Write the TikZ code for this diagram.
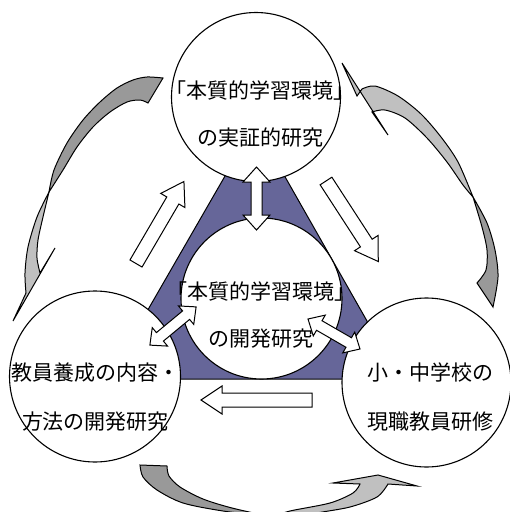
\documentclass[tikz,border=0pt]{standalone}
\usepackage{fontspec}
\newfontfamily\jp{Noto Sans CJK JP}
\definecolor{darkg}{HTML}{999999}
\definecolor{lightg}{HTML}{C0C0C0}
\definecolor{tribl}{HTML}{666699}
\newcommand\blockarrow[7]{% tail x, tail y, angle, length, shaft w, head w, head len
  \begin{scope}[shift={(#1,#2)},rotate=#3]
    \draw[warrow] (0,-#5/2) -- (#4-#7,-#5/2) -- (#4-#7,-#6/2) -- (#4,0)
      -- (#4-#7,#6/2) -- (#4-#7,#5/2) -- (0,#5/2) -- cycle;
  \end{scope}}
\newcommand\dblarrow[7]{% centre x, centre y, angle, length, shaft w, head w, head len
  \begin{scope}[shift={(#1,#2)},rotate=#3]
    \draw[warrow] (-#4/2,0) -- (-#4/2+#7,-#6/2) -- (-#4/2+#7,-#5/2)
      -- (#4/2-#7,-#5/2) -- (#4/2-#7,-#6/2) -- (#4/2,0) -- (#4/2-#7,#6/2)
      -- (#4/2-#7,#5/2) -- (-#4/2+#7,#5/2) -- (-#4/2+#7,#6/2) -- cycle;
  \end{scope}}
\begin{document}
\begin{tikzpicture}[x=1pt,y=-1pt,
  circ/.style={circle,draw=black,fill=white,line width=1.1pt,inner sep=0pt},
  lbl/.style={font=\jp\fontsize{21}{47}\selectfont,align=center,inner sep=0pt},
  lblw/.style={font=\jp\fontsize{21}{49}\selectfont,align=center,inner sep=0pt},
  warrow/.style={draw=black,fill=white,line width=1pt,line join=miter},
  garrow/.style={draw=black,line width=1pt,line join=miter}]
\useasboundingbox (0,0) rectangle (510,512);
\clip (0,0) rectangle (510,512);

% gray curved arrows
\draw[garrow,fill=darkg] (163,78) -- plot[smooth] coordinates {(163,78)(147,77)(133,80)(117,88)(100,102)(83,120)(67,143)(54,170)(49,192)}
  -- plot[smooth] coordinates {(49,192)(63,170)(77,147)(93,127)(110,112)(127,102)(140,100)(148,103)} -- cycle;
\draw[garrow,fill=lightg] plot[smooth] coordinates {(49,192)(37,217)(28,247)(25,273)(26,293)}
  -- (13,321) -- (55,248) -- (40,273)
  -- plot[smooth] coordinates {(40,273)(37,258)(38,240)(43,217)(49,192)} -- cycle;

\draw[garrow,fill=lightg] (342,63) -- (357,96) -- plot[smooth] coordinates {(362,89)(375,86)(398,96)(421,114)(441,137)(458,162)(473,197)}
  -- plot[smooth] coordinates {(473,197)(463,185)(447,162)(427,138)(405,118)(385,110)(372,112)}
  -- (388,135) -- cycle;
\draw[garrow,fill=darkg] plot[smooth] coordinates {(473,197)(487,223)(495,250)(498,277)(493,307)}
  -- (477,283) -- plot[smooth] coordinates {(477,283)(486,270)(487,250)(482,227)(473,197)} -- cycle;

\draw[garrow,fill=darkg] (140,465) -- (167,466) -- plot[smooth] coordinates {(167,466)(169,476)(180,487)(203,499)(232,508)(272,517)}
  -- plot[smooth] coordinates {(272,517)(223,511)(183,503)(157,490)(143,477)(140,465)} -- cycle;
\draw[garrow,fill=lightg] plot[smooth] coordinates {(272,517)(290,511)(330,503)(353,493)(360,484)}
  -- (333,483) -- (378,475) -- (417,486) -- (388,484)
  -- plot[smooth] coordinates {(388,484)(377,497)(350,507)(317,513)(285,520)} -- cycle;

% blue triangle
\coordinate (ta) at (255,124);
\coordinate (tb) at (108,379);
\coordinate (tc) at (400,379);
\draw[line width=1pt,fill=tribl,line join=miter] (ta) -- (tb) -- (tc) -- cycle;

% circles
\node[circ,minimum size=169pt] (top) at (256,97) {};
\node[circ,minimum size=161pt] (mid) at (261.5,298.5) {};
\node[circ,minimum size=171pt] (left) at (95,376.5) {};
\node[circ,minimum size=169pt] (right) at (426.5,382.5) {};

% white block arrows
\blockarrow{136}{263.5}{59.7}{95}{14}{28}{22}
\blockarrow{326}{181}{-57}{96}{14}{28}{22}
\blockarrow{312}{400}{180}{111}{14}{28}{21}
\dblarrow{256.5}{198.5}{90}{63}{11}{27}{15}
\dblarrow{173}{326}{39.6}{60}{11}{24}{13}
\dblarrow{334}{334}{-30}{60}{11}{24}{13}

% labels
\node[lbl] (ttop) at (260,113.5) {「本質的学習環境」\\の実証的研究};
\node[lbl] (tmid) at (261,315) {「本質的学習環境」\\の開発研究};
\node[lblw] (tleft) at (95.5,397.5) {教員養成の内容・\\方法の開発研究};
\node[lblw] (tright) at (430,397.5) {小・中学校の\\現職教員研修};
\end{tikzpicture}
\end{document}
